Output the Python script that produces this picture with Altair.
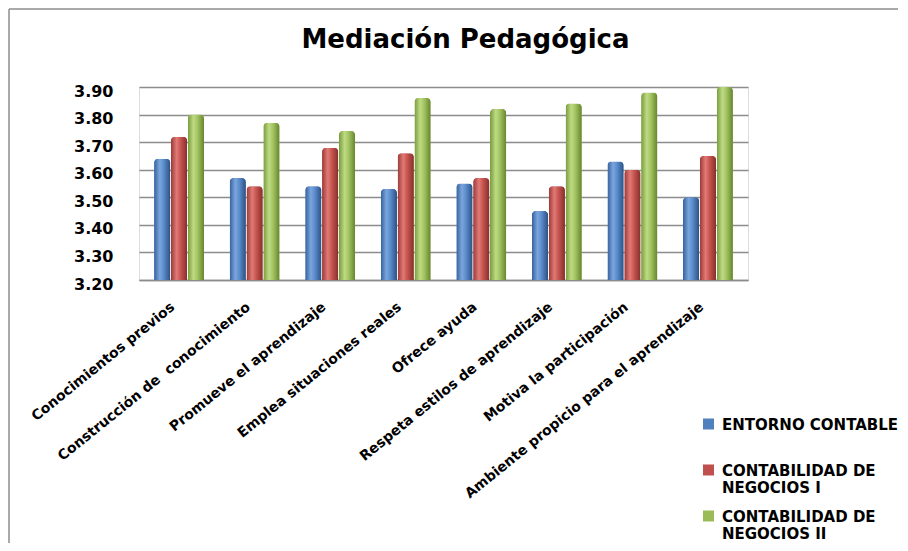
import altair as alt
import pandas as pd

categorias = [
    "Conocimientos previos",
    "Construcción de  conocimiento",
    "Promueve el aprendizaje",
    "Emplea situaciones reales",
    "Ofrece ayuda",
    "Respeta estilos de aprendizaje",
    "Motiva la participación",
    "Ambiente propicio para el aprendizaje",
]
series = ["ENTORNO CONTABLE", "CONTABILIDAD DE NEGOCIOS I", "CONTABILIDAD DE NEGOCIOS II"]
entorno = [3.64, 3.57, 3.54, 3.53, 3.55, 3.45, 3.63, 3.50]
negocios1 = [3.72, 3.54, 3.68, 3.66, 3.57, 3.54, 3.60, 3.65]
negocios2 = [3.80, 3.77, 3.74, 3.86, 3.82, 3.84, 3.88, 3.90]
ticks_y = [3.20, 3.30, 3.40, 3.50, 3.60, 3.70, 3.80, 3.90]

colores = ["#4F81BD", "#C0504D", "#9BBB59"]
degradados = [
    ["#35609A", "#7BA6DE", "#5A8BCB", "#2C5182"],
    ["#9B3836", "#E07A76", "#C8544F", "#83302D"],
    ["#789A3C", "#BEDB84", "#A3C462", "#66852F"],
]

rows = []
for s, vals in zip(series, [entorno, negocios1, negocios2]):
    for c, v in zip(categorias, vals):
        rows.append({"categoria": c, "serie": s, "valor": v})
df = pd.DataFrame(rows)

FONT = "DejaVu Sans"

base = alt.Chart(df).encode(
    x=alt.X(
        "categoria:N",
        sort=categorias,
        scale=alt.Scale(paddingInner=0.34),
        axis=alt.Axis(
            title=None,
            labelAngle=321,
            labelAlign="right",
            labelBaseline="middle",
            labelPadding=25,
            labelOffset=-6,
            labelExpr="replace(datum.label, '  ', ' \u00a0')",
            labelFont=FONT,
            labelFontWeight="bold",
            labelFontSize=14,
            labelColor="#000000",
            labelLimit=400,
            ticks=False,
            domainColor="#8c8c8c",
            domainWidth=1.5,
            grid=False,
        ),
    ),
    xOffset=alt.XOffset("serie:N", sort=series, scale=alt.Scale(domain=series, paddingInner=0.04)),
    y=alt.Y(
        "valor:Q",
        scale=alt.Scale(domain=[3.2, 3.9], zero=False, nice=False, clamp=True),
        axis=alt.Axis(
            title=None,
            values=ticks_y,
            format=".2f",
            labelFont=FONT,
            labelFontWeight="bold",
            labelFontSize=16,
            labelColor="#000000",
            labelPadding=26,
            labelOffset=4,
            ticks=False,
            domain=False,
            grid=True,
            gridColor="#8c8c8c",
            gridWidth=1.5,
        ),
    ),
)

flat = base.mark_bar(cornerRadiusTopLeft=4, cornerRadiusTopRight=4).encode(
    color=alt.Color(
        "serie:N",
        scale=alt.Scale(domain=series, range=colores),
        legend=alt.Legend(
            title=None,
            orient="none",
            legendX=562,
            legendY=323,
            symbolType="M-1,0.18L1,0.18L1,2.18L-1,2.18Z",
            symbolSize=121,
            symbolStrokeWidth=0,
            labelFont=FONT,
            labelFontWeight="bold",
            labelFontSize=15,
            labelColor="#000000",
            labelLimit=400,
            labelOffset=6,
            labelBaseline="top",
            labelExpr="split(replace(datum.label, 'DE ', 'DE|'), '|')",
            gridAlign="all",
            rowPadding=6,
            padding=0,
        ),
    )
)

capas = [flat]
for s, g in zip(series, degradados):
    grad = alt.Gradient(
        gradient="linear",
        stops=[
            alt.GradientStop(color=g[0], offset=0),
            alt.GradientStop(color=g[1], offset=0.35),
            alt.GradientStop(color=g[2], offset=0.6),
            alt.GradientStop(color=g[3], offset=1),
        ],
        x1=0, x2=1, y1=0, y2=0,
    )
    capas.append(
        base.transform_filter(alt.datum.serie == s).mark_bar(
            fill=grad, cornerRadiusTopLeft=4, cornerRadiusTopRight=4
        )
    )

marco = pd.DataFrame({"k": [0]})
borde_sup = alt.Chart(marco).mark_rule(color="#8c8c8c", strokeWidth=1.5).encode(
    x=alt.value(-130), x2=alt.value(775), y=alt.value(-78)
)
borde_izq = alt.Chart(marco).mark_rule(color="#8c8c8c", strokeWidth=1.5).encode(
    x=alt.value(-130), y=alt.value(-78), y2=alt.value(470)
)

chart = alt.layer(*capas, borde_sup, borde_izq).properties(
    width=609,
    height=193,
    autosize=alt.AutoSizeParams(type="none"),
    padding={"left": 131, "top": 79, "right": 150, "bottom": 263},
    title=alt.Title(
        "Mediación Pedagógica",
        font=FONT,
        fontWeight="bold",
        fontSize=26,
        color="#000000",
        anchor="middle",
        frame="group",
        baseline="alphabetic",
        offset=-66,
        dx=22,
    ),
).configure_view(stroke=None).configure(background="#ffffff")

chart.save("out.html", embed_options={"renderer": "svg", "actions": False})
